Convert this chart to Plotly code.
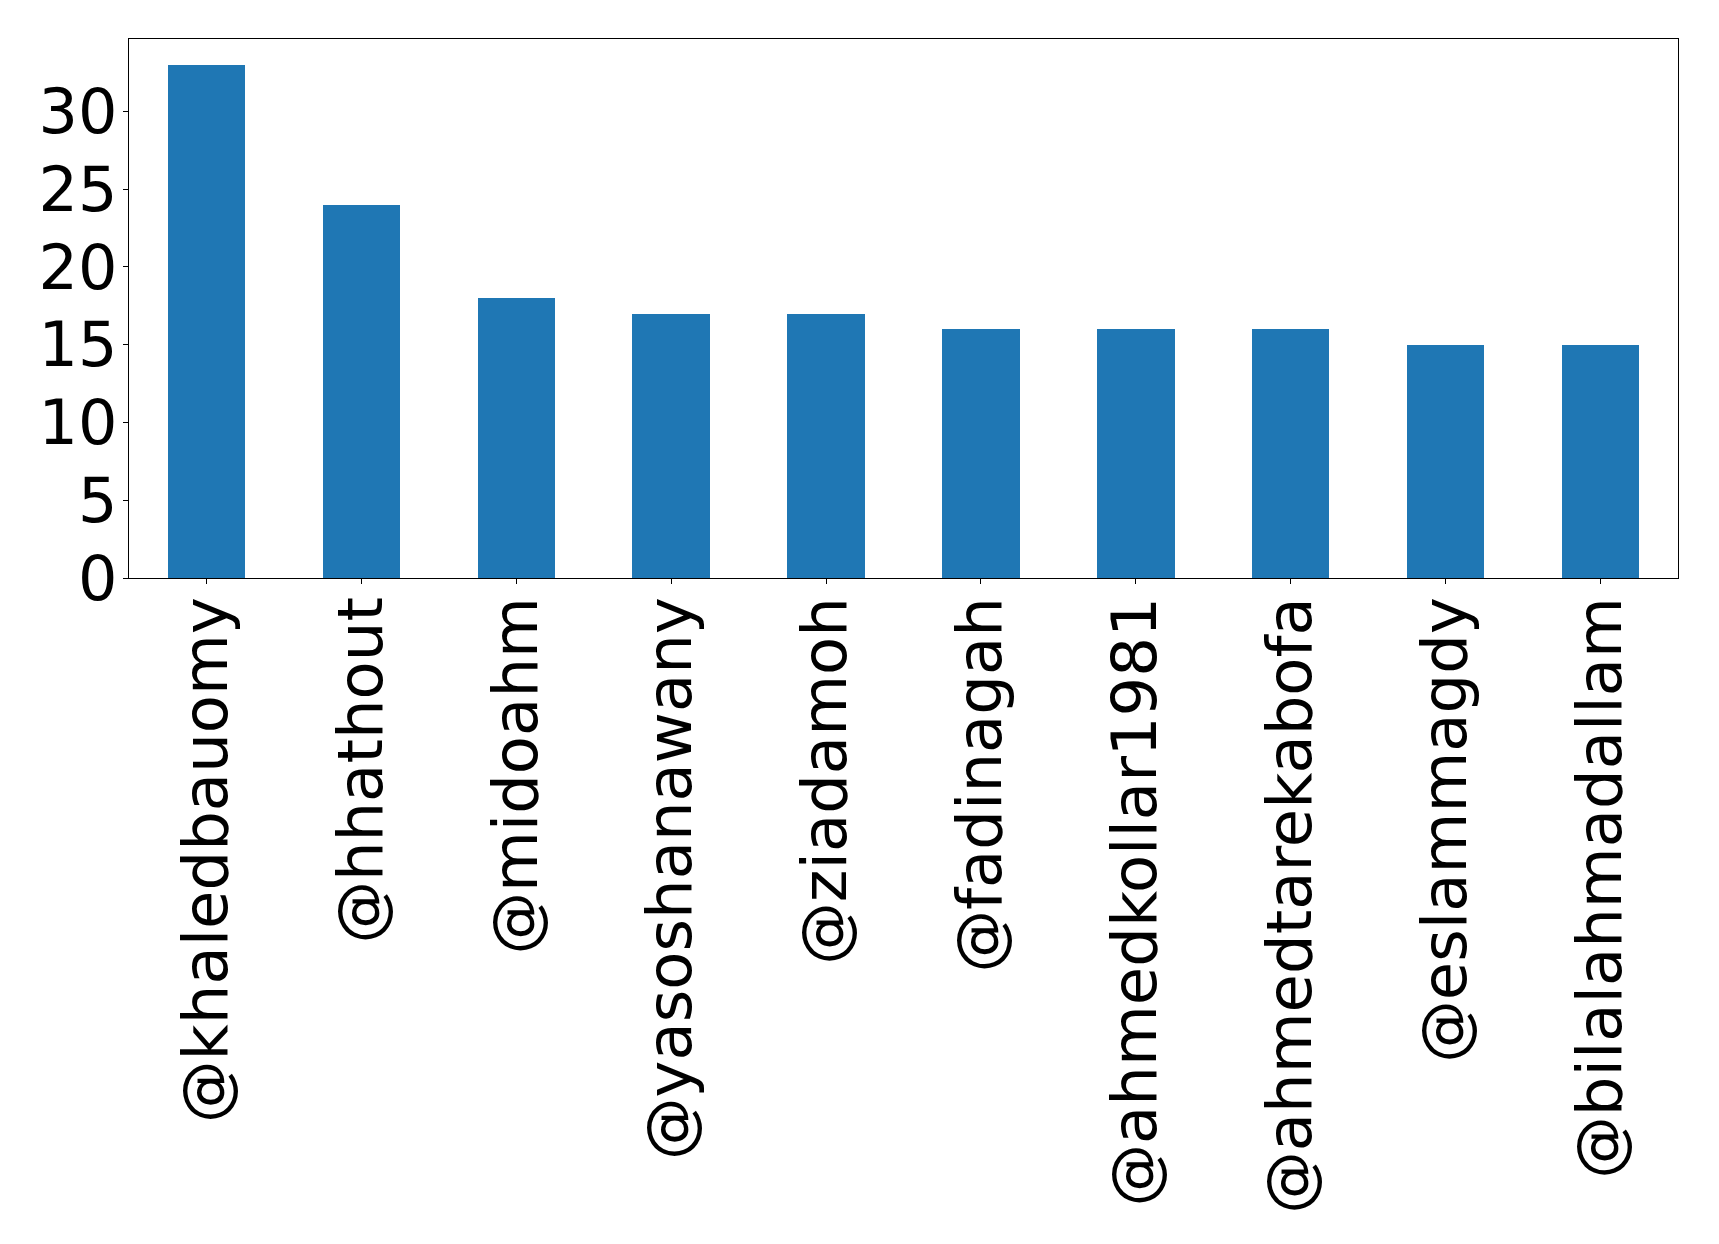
import plotly.graph_objects as go

users = ["@khaledbauomy", "@hhathout", "@midoahm", "@yasoshanawany", "@ziadamoh",
         "@fadinagah", "@ahmedkollar1981", "@ahmedtarekabofa", "@eslammagdy", "@bilalahmadallam"]
counts = [33, 24, 18, 17, 17, 16, 16, 16, 15, 15]
y_ticks = [0, 5, 10, 15, 20, 25, 30]

fig = go.Figure(go.Bar(x=users, y=counts, width=0.5, marker=dict(color="#1f77b4", line=dict(width=0))))

W, H = 1703, 1228
left, right, top, bottom = 121, 33, 31, 658

fig.update_layout(
    width=W, height=H,
    margin=dict(l=left, r=right, t=top, b=bottom, autoexpand=False),
    paper_bgcolor="white", plot_bgcolor="white",
    font=dict(family="DejaVu Sans", size=62, color="black"),
    showlegend=False, bargap=0,
)
fig.update_xaxes(
    range=[-0.5, 9.5], tickangle=-90, showline=True, linecolor="black", linewidth=1.2,
    mirror=True, ticks="outside", ticklen=5, tickwidth=1.2, tickcolor="black",
    showgrid=False, automargin=False, tickfont=dict(size=62.5), ticklabelstandoff=-12,
)
fig.update_yaxes(
    range=[0, 34.65], tickvals=y_ticks, showline=True, linecolor="black", linewidth=1.2,
    mirror=True, ticks="outside", ticklen=5, tickwidth=1.2, tickcolor="black",
    showgrid=False, zeroline=False, automargin=False, tickfont=dict(size=62), ticklabelstandoff=-7,
)
fig.write_html("out.html")
